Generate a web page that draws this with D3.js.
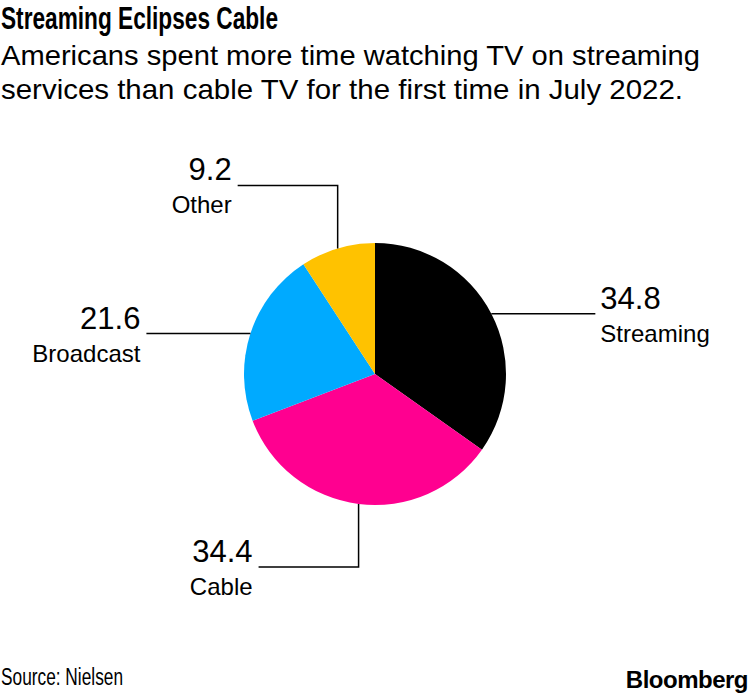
<!DOCTYPE html>
<html><head><meta charset="utf-8">
<script src="https://cdn.jsdelivr.net/npm/d3@7"></script>
<style>body{margin:0;background:#fff}svg{display:block}</style>
</head><body>
<svg id="c" width="750" height="694"></svg>
<script>
const categories = ["Streaming", "Cable", "Broadcast", "Other"];
const values = [34.8, 34.4, 21.6, 9.2];
const colors = ["#000000", "#FF0090", "#00AAFF", "#FFC200"];

const svg = d3.select("#c");
const font = "'Liberation Sans', Arial, Helvetica, sans-serif";
const cx = 375, cy = 374, r = 131;

svg.append("text").attr("x", 1).attr("y", 29)
  .attr("font-family", font)
  .attr("font-weight", "bold").attr("font-size", 31).attr("fill", "#000")
  .attr("textLength", 277).attr("lengthAdjust", "spacingAndGlyphs")
  .text("Streaming Eclipses Cable");
const sub = ["Americans spent more time watching TV on streaming", "services than cable TV for the first time in July 2022."];
const subLen = [699, 682];
sub.forEach((s, i) => svg.append("text").attr("x", 1).attr("y", 65 + i * 34)
  .attr("font-family", font).attr("font-size", 28).attr("fill", "#000")
  .attr("textLength", subLen[i]).attr("lengthAdjust", "spacingAndGlyphs").text(s));

const data = categories.map((c, i) => ({cat: c, value: values[i], color: colors[i]}));
const pie = d3.pie().sort(null).value(d => d.value);
const arc = d3.arc().innerRadius(0).outerRadius(r);
const arcs = pie(data);
const g = svg.append("g").attr("transform", `translate(${cx},${cy})`);
g.selectAll("path").data(arcs).join("path").attr("d", arc).attr("fill", d => d.data.color);

const hLen = 104, vLen = 63, hLen2 = 100;
arcs.forEach(a => {
  const m = (a.startAngle + a.endAngle) / 2;
  const sx = cx + r * Math.sin(m), sy = cy - r * Math.cos(m);
  let pts, ex, ey, anchor;
  if (Math.abs(Math.sin(m)) > Math.abs(Math.cos(m))) {
    const dir = Math.sin(m) > 0 ? 1 : -1;
    ex = sx + dir * hLen; ey = sy;
    pts = [[sx, sy], [ex, ey]];
    anchor = dir > 0 ? "start" : "end";
  } else {
    const dy = Math.cos(m) > 0 ? -1 : 1;
    const vy = sy + dy * vLen;
    ex = sx - hLen2; ey = vy;
    pts = [[sx, sy], [sx, vy], [ex, ey]];
    anchor = "end";
  }
  svg.append("path").attr("d", d3.line()(pts)).attr("fill", "none")
    .attr("stroke", "#000").attr("stroke-width", 1.5);
  const tx = anchor === "start" ? ex + 5 : ex - 6;
  svg.append("text").attr("x", tx).attr("y", ey - 5).attr("text-anchor", anchor)
    .attr("font-family", font).attr("font-size", 31).attr("fill", "#000")
    .text(d3.format(".1f")(a.data.value));
  svg.append("text").attr("x", tx).attr("y", ey + 28).attr("text-anchor", anchor)
    .attr("font-family", font).attr("font-size", 24).attr("fill", "#000")
    .text(a.data.cat);
});

svg.append("text").attr("x", 1).attr("y", 685).attr("font-family", font)
  .attr("font-size", 23).attr("fill", "#000")
  .attr("textLength", 122).attr("lengthAdjust", "spacingAndGlyphs").text("Source: Nielsen");
svg.append("text").attr("x", 748).attr("y", 688).attr("text-anchor", "end")
  .attr("font-family", font)
  .attr("font-weight", "bold").attr("font-size", 24).attr("letter-spacing", -0.5).attr("fill", "#000").text("Bloomberg");
</script>
</body></html>
